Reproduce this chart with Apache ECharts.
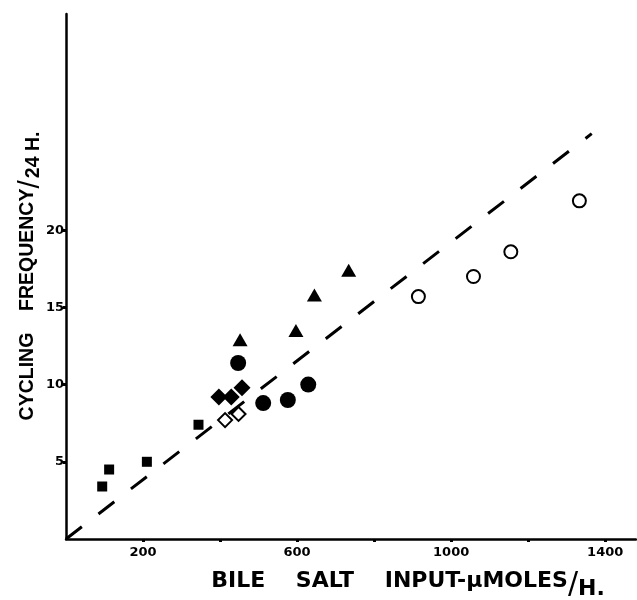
<!DOCTYPE html>
<html>
<head>
<meta charset="utf-8">
<script src="https://cdn.jsdelivr.net/npm/echarts@6/dist/echarts.min.js"></script>
<style>
    html, body { margin: 0; padding: 0; background: #fff; }
    .chart { width: 637px; height: 600px; }
</style>
</head>
<body>
<div class="chart"></div>
<script>
// values (x: umoles/h, y: cycles/24h)
var squares = [[94, 3.4], [112, 4.5], [210, 5.0], [344, 7.4]];
var filledDiamonds = [[397, 9.2], [429, 9.2], [457, 9.8]];
var openDiamonds = [[413, 7.7], [448, 8.1]];
var filledCircles = [[447, 11.4], [512, 8.8], [576, 9.0], [629, 10.0]];
var triangles = [[452, 12.9], [597, 13.5], [645, 15.8], [734, 17.4]];
var openCircles = [[915, 15.7], [1058, 17.0], [1155, 18.6], [1333, 21.9]];
var fitLine = [[0, 0], [1365, 26.25]];

var xTicks = [200, 400, 600, 800, 1000, 1200, 1400];
var xLabels = [200, 600, 1000, 1400];
var yTicks = [5, 10, 15, 20];

(function () {
    var myChart = echarts.init(document.querySelector('.chart'));

    function pts(type, data, size, open) {
        return {
            type: 'scatter',
            symbol: type,
            symbolSize: size,
            data: data,
            z: open ? 4 : 3,
            itemStyle: open ? {
                color: '#fff',
                borderColor: '#000',
                borderWidth: 2,
                opacity: 1
            } : {
                color: '#000',
                opacity: 1
            }
        };
    }

    var tickFont = {
        color: '#000',
        fontFamily: 'DejaVu Sans',
        fontWeight: 'bold',
        fontSize: 13,
        formatter: function (v) { return String(v); }
    };

    var option = {
        backgroundColor: '#fff',
        animation: false,
        grid: {
            left: 66,
            right: 1,
            top: 14,
            bottom: 61
        },
        xAxis: {
            type: 'value',
            min: 0,
            max: 1480,
            interval: 200,
            axisLine: { lineStyle: { color: '#000', width: 2.5 } },
            axisTick: {
                customValues: xTicks,
                length: 3,
                lineStyle: { color: '#000', width: 3 }
            },
            axisLabel: Object.assign({ customValues: xLabels, margin: 7 }, tickFont),
            splitLine: { show: false }
        },
        yAxis: {
            type: 'value',
            min: 0,
            max: 34,
            interval: 5,
            axisLine: { lineStyle: { color: '#000', width: 2.5 } },
            axisTick: {
                customValues: yTicks,
                length: 3,
                lineStyle: { color: '#000', width: 3 }
            },
            axisLabel: Object.assign({ customValues: yTicks, margin: 2 }, tickFont),
            splitLine: { show: false }
        },
        graphic: [
            {
                type: 'text',
                x: 408,
                y: 585,
                style: {
                    text: '{a|BILE    SALT    INPUT-µMOLES}{s|/}{b|H.}',
                    align: 'center',
                    verticalAlign: 'middle',
                    rich: {
                        a: { fontFamily: 'DejaVu Sans', fontWeight: 'bold', fontSize: 22, lineHeight: 22, verticalAlign: 'top', fill: '#000' },
                        s: { fontFamily: 'DejaVu Sans', fontSize: 30, lineHeight: 30, fill: '#000' },
                        b: { fontFamily: 'DejaVu Sans', fontWeight: 'bold', fontSize: 22, lineHeight: 22, padding: [8, 0, 0, 0], fill: '#000' }
                    }
                }
            },
            {
                type: 'text',
                x: 31,
                y: 276,
                rotation: Math.PI / 2,
                style: {
                    text: '{a|CYCLING    FREQUENCY}{s|/}{b|24 H.}',
                    align: 'center',
                    verticalAlign: 'middle',
                    rich: {
                        a: { fontFamily: 'Liberation Sans', fontWeight: 'bold', fontSize: 19.5, lineHeight: 20, verticalAlign: 'top', fill: '#000' },
                        s: { fontFamily: 'Liberation Sans', fontSize: 30, lineHeight: 26, fill: '#000' },
                        b: { fontFamily: 'Liberation Sans', fontWeight: 'bold', fontSize: 19.5, lineHeight: 20, padding: [5, 0, 0, 2], fill: '#000' }
                    }
                }
            }
        ],
        series: [
            {
                type: 'line',
                data: fitLine,
                symbol: 'none',
                z: 1,
                lineStyle: { color: '#000', width: 3, type: [20, 21] }
            },
            pts('rect', squares, 10, false),
            pts('diamond', filledDiamonds, 17, false),
            pts('diamond', openDiamonds, 14, true),
            pts('circle', filledCircles, 16, false),
            pts('triangle', triangles, [15, 13], false),
            pts('circle', openCircles, 13, true)
        ]
    };
    myChart.setOption(option);
    window.addEventListener('resize', function () {
        myChart.resize();
    });
})();
</script>
</body>
</html>
